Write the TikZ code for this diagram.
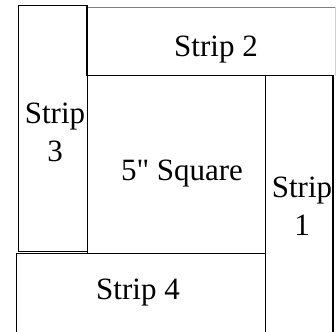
\documentclass[tikz,border=0pt]{standalone}
\usepackage{fontspec}
\setmainfont{Liberation Serif}
\begin{document}
\begin{tikzpicture}[x=1pt, y=-1pt, font=\fontsize{31}{38}\selectfont]
    \useasboundingbox (0,0) rectangle (336,331);
    \clip (0,0) rectangle (336,331);

    % Strip 2 (top)
    \draw[gray, line width=1.5pt] (87,7.5) -- (335,7.5);
    \draw[gray!35, line width=1pt] (335,7.5) -- (335,76);

    % Strip 3 (left)
    \draw[line width=1pt] (18,6) rectangle (87,251);
    \draw[line width=1.6pt] (87,6) -- (87,76);

    % 5" square
    \draw[line width=1pt] (87,76) rectangle (265,253);

    % Strip 1 (right)
    \draw[line width=1pt] (265,76) -- (265,345);
    \draw[line width=1pt] (265,76) -- (334,76);
    \draw[line width=2pt] (333,76) -- (333,345);

    % Strip 4 (bottom)
    \draw[line width=1pt] (16,345) -- (16,253) -- (265,253);

    % Labels (base = last line)
    \node[anchor=base, inner sep=0pt] (lbltwo) at (216,57) {Strip 2};
    \node[anchor=base, inner sep=0pt, align=center] (lblthree) at (55,161) {Strip\\3};
    \node[anchor=base, inner sep=0pt] (lblsquare) at (182,180) {5\textquotedbl{} Square};
    \node[anchor=base, inner sep=0pt, align=center] (lblone) at (302,235) {Strip\\1};
    \node[anchor=base, inner sep=0pt] (lblfour) at (138,299) {Strip 4};
\end{tikzpicture}
\end{document}
